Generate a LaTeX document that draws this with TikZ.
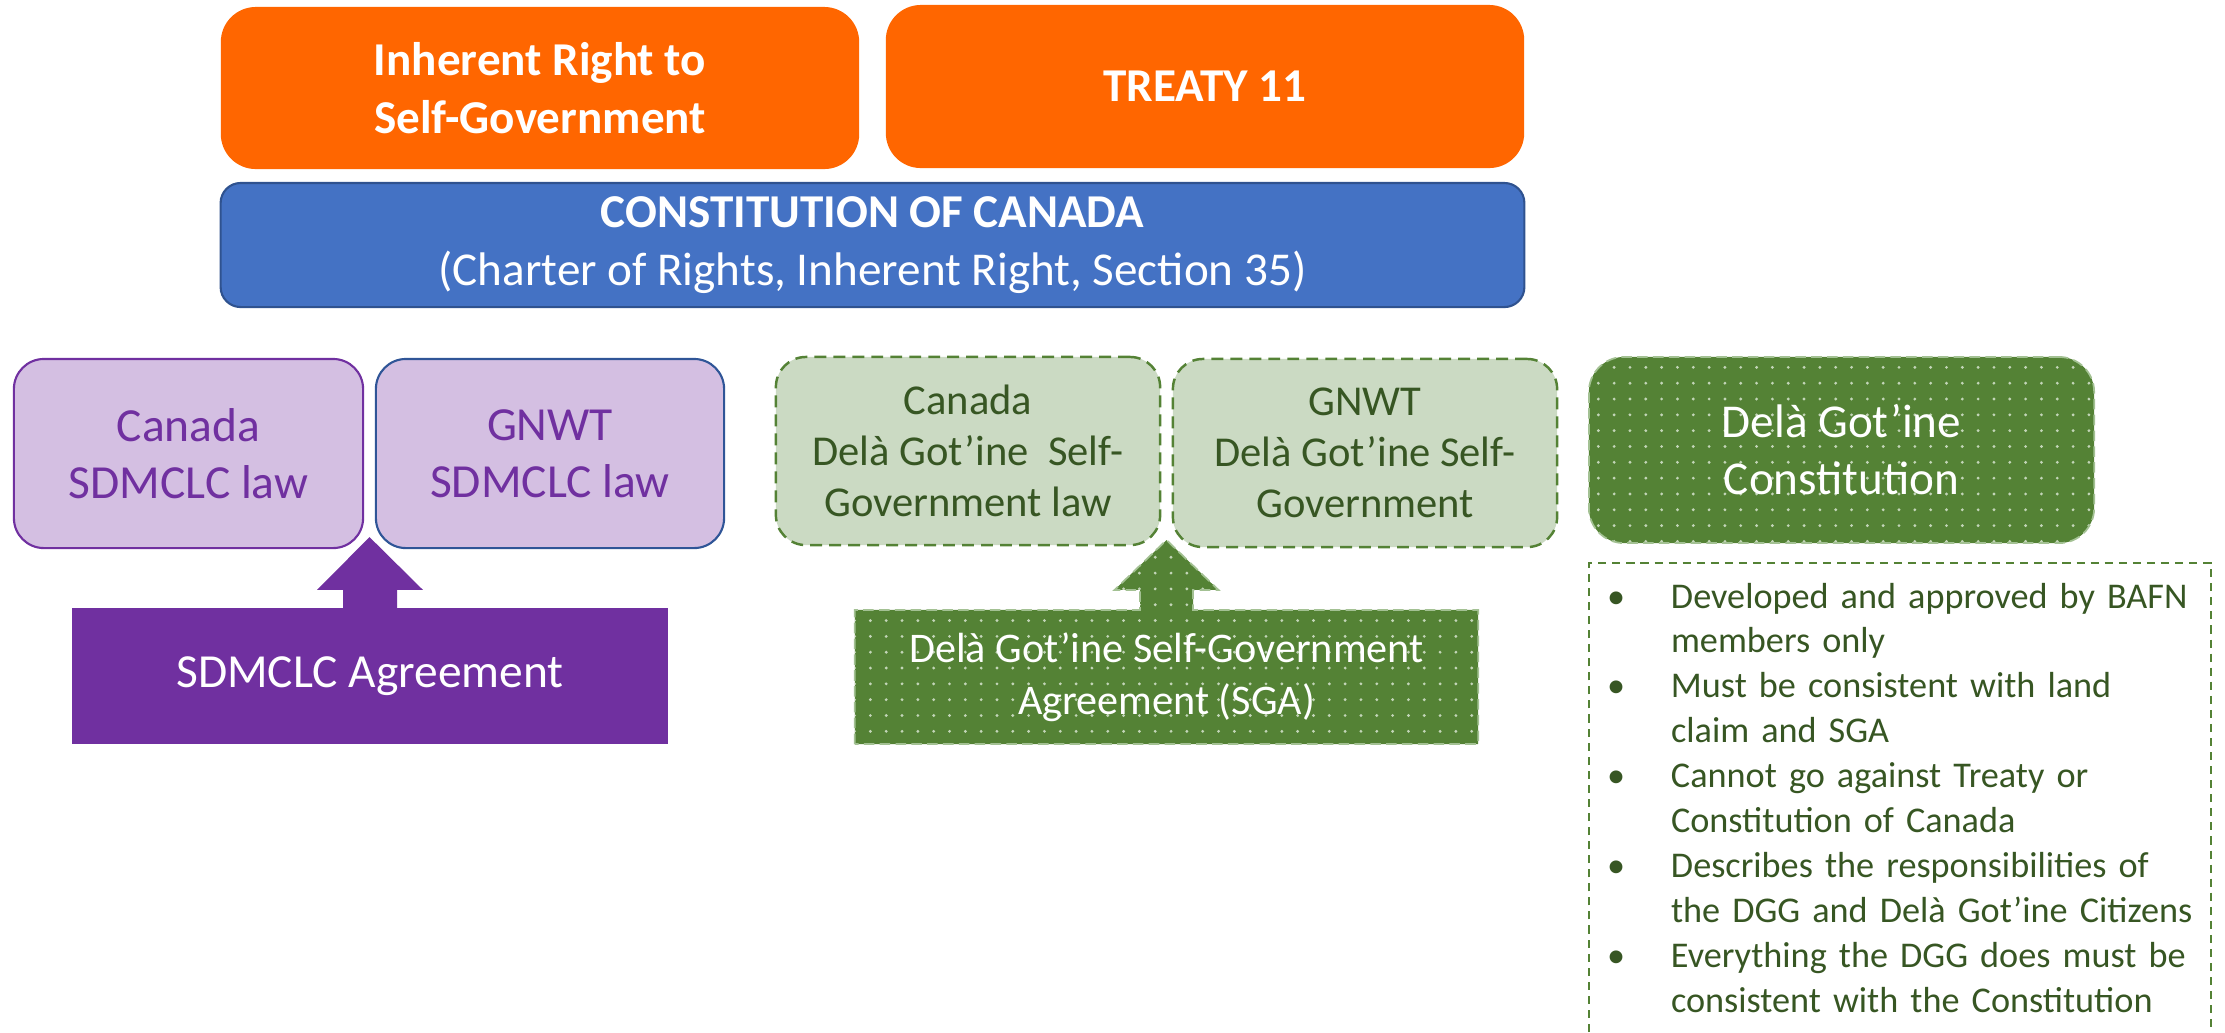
\documentclass[tikz,border=0pt]{standalone}
\usepackage{fontspec}
\setmainfont{Carlito}
\usetikzlibrary{calc,patterns.meta,backgrounds}
\definecolor{orng}{HTML}{FF6600}
\definecolor{blu}{HTML}{4472C4}
\definecolor{bludk}{HTML}{2F528F}
\definecolor{purp}{HTML}{7030A0}
\definecolor{lilac}{HTML}{D4BFE2}
\definecolor{blueedge}{HTML}{2F5597}
\definecolor{lgreen}{HTML}{CBDAC3}
\definecolor{grn}{HTML}{548235}
\definecolor{dgtext}{HTML}{375623}
\definecolor{dotcol}{HTML}{C3D5B8}
\definecolor{sgaedge}{HTML}{A3C193}
\newcommand\bulmark{\makebox[18.2pt][l]{•}}
\newcommand\bulgap{\hspace*{18.2pt}}
\begin{document}
\begin{tikzpicture}[x=0.01cm,y=-0.01cm,
  basebox/.style={rectangle,inner sep=0pt,outer sep=0pt,align=center},
  orangebox/.style={basebox,fill=orng,rounded corners=0.35cm,text=white,
    font=\bfseries\fontsize{13.4}{16.5}\selectfont},
  bluebox/.style={basebox,fill=blu,draw=bludk,line width=0.6pt,rounded corners=0.2cm,text=white,
    font=\fontsize{13.4}{16.5}\selectfont},
  lilacbox/.style={basebox,fill=lilac,line width=0.6pt,rounded corners=0.3cm,text=purp,
    font=\fontsize{13.5}{16.2}\selectfont},
  lgreenbox/.style={basebox,fill=lgreen,draw=grn,line width=0.7pt,dash pattern=on 3.4pt off 2pt,
    rounded corners=0.3cm,text=dgtext,font=\fontsize{12.1}{14.5}\selectfont},
  dotfill/.style={preaction={fill=grn},pattern={Dots[distance=4.5pt,radius=0.45pt]},pattern color=dotcol,
    draw=sgaedge,line width=0.5pt,dash pattern=on 3pt off 1.5pt},
  dgbox/.style={basebox,dotfill,rounded corners=0.35cm,text=white,font=\fontsize{13.4}{16.2}\selectfont},
  sdmbox/.style={basebox,fill=purp,text=white,font=\fontsize{13.5}{16.2}\selectfont},
  sgabox/.style={basebox,text=white,font=\fontsize{12}{14.8}\selectfont},
  bultext/.style={inner sep=0pt,outer sep=0pt,text width=6.1cm,align=left,text=dgtext,
    font=\fontsize{10.3}{12.78}\selectfont},
  bulframe/.style={draw=grn,line width=0.45pt,dash pattern=on 2.3pt off 1.7pt}
]
\useasboundingbox (0,0) rectangle (2225,1032);

% top row
\node[orangebox,minimum width=6.38cm,minimum height=1.62cm] (inh) at (540,88) {Inherent Right to\\Self-Government};
\node[orangebox,minimum width=6.38cm,minimum height=1.63cm] (tr) at (1205,86.5) {TREATY 11};
\node[bluebox,minimum width=13.03cm,minimum height=1.24cm] (con) at (872.5,245)
  {{\bfseries CONSTITUTION OF CANADA}\\(Charter of Rights, Inherent Right, Section 35)};

% SDMCLC boxes
\node[lilacbox,draw=purp,minimum width=3.49cm,minimum height=1.89cm] (p1) at (188.5,453.5) {Canada\\SDMCLC law};
\node[lilacbox,draw=blueedge,minimum width=3.48cm,minimum height=1.89cm] (p2) at (550,453.5) {GNWT\\SDMCLC law};

% Self-government boxes
\node[lgreenbox,minimum width=3.84cm,minimum height=1.88cm] (g1) at (968,451) {Canada\\Delà Got’ine\ \ Self-\\Government law};
\node[lgreenbox,minimum width=3.84cm,minimum height=1.88cm] (g2) at (1365,453) {GNWT\\Delà Got’ine Self-\\Government};

% Constitution box
\node[dgbox,minimum width=5.05cm,minimum height=1.86cm] (dg) at (1841.5,450) {Delà Got’ine\\Constitution};

% SDMCLC agreement + arrow
\node[sdmbox,minimum width=5.96cm,minimum height=1.36cm] (sdm) at (370,676) {SDMCLC Agreement};
\coordinate (ptip) at ($($(p1.south east)!0.5!(p2.south west)$)+(0,-11)$);
\fill[purp] ($(sdm.north)+(-27,1)$) -- ($(sdm.north)+(-27,-18)$) -- ($(sdm.north)+(-53,-18)$) -- (ptip)
  -- ($(sdm.north)+(53,-18)$) -- ($(sdm.north)+(27,-18)$) -- ($(sdm.north)+(27,1)$) -- cycle;

% SGA + arrow
\node[sgabox,minimum width=6.23cm,minimum height=1.34cm] (sga) at (1166.5,677) {Delà Got’ine Self-Government\\Agreement (SGA)};
\coordinate (gtip) at ($($(g1.south east)!0.5!(g2.south west)$)+(0,-6)$);
\begin{scope}[on background layer]
\path[dotfill] (sga.south west) -- (sga.north west) -- ($(sga.north)+(-26.5,0)$) -- ($(sga.north)+(-26.5,-20)$)
  -- ($(sga.north)+(-52,-20)$) -- (gtip) -- ($(sga.north)+(52,-20)$) -- ($(sga.north)+(26.5,-20)$)
  -- ($(sga.north)+(26.5,0)$) -- (sga.north east) -- (sga.south east) -- cycle;
\end{scope}

% bullet list
\draw[bulframe] (1589,1032) -- (1589,563) -- (2211,563) -- (2211,1032);
\node[bultext,anchor=base west] (bul) at (1607,608) {%
\bulmark Developed and approved by BAFN\\
\bulgap members only\\
\bulmark Must be consistent with land\\
\bulgap claim and SGA\\
\bulmark Cannot go against Treaty or\\
\bulgap Constitution of Canada\\
\bulmark Describes the responsibilities of\\
\bulgap the DGG and Delà Got’ine Citizens\\
\bulmark Everything the DGG does must be\\
\bulgap consistent with the Constitution};
\end{tikzpicture}
\end{document}
